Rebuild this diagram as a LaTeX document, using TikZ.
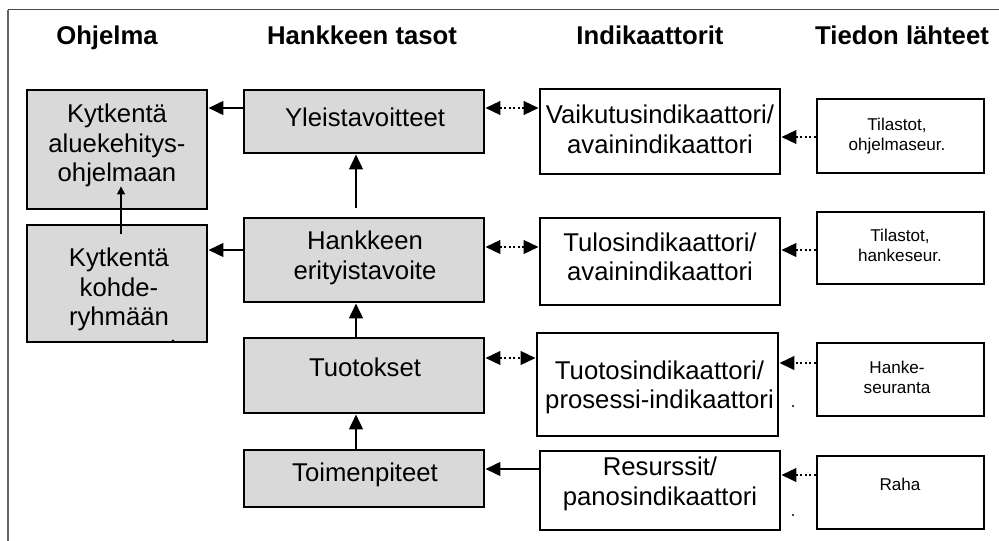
\documentclass[tikz,border=0pt]{standalone}
\usepackage{fontspec}
\setmainfont{Liberation Sans}
\usetikzlibrary{arrows.meta}

\definecolor{boxgray}{HTML}{D9D9D9}
\definecolor{framegray}{HTML}{4A4A4A}

\tikzset{
  boxbase/.style={draw=black, line width=2.8pt, inner sep=0pt},
  graybox/.style={boxbase, fill=boxgray},
  whitebox/.style={boxbase, fill=white},
  bigtext/.style={font=\fontsize{25.7}{29.6}\selectfont, align=center, inner sep=0pt},
  smalltext/.style={font=\fontsize{17.1}{20}\selectfont, align=center, inner sep=0pt},
  headtext/.style={font=\fontsize{25.7}{29.6}\selectfont\bfseries, inner sep=0pt, anchor=base},
  tip/.style={Triangle[length=15pt,width=13.5pt]},
  arr/.style={line width=2.8pt, -{Triangle[length=15pt,width=13.5pt]}},
  thinarr/.style={line width=1.5pt, -{Triangle[length=8pt,width=8pt]}},
  dotarr/.style={line width=2.6pt, dash pattern=on 2pt off 2.5pt, -{Triangle[length=15pt,width=13.5pt]}},
  dotboth/.style={line width=2.6pt, dash pattern=on 2pt off 2.5pt, {Triangle[length=15pt,width=13.5pt]}-{Triangle[length=15pt,width=13.5pt]}},
}

\begin{document}
\begin{tikzpicture}[x=1pt, y=-1pt]
  \useasboundingbox (0,0) rectangle (999,541);

  % frame (top and left edges)
  \draw[framegray, line width=1.6pt] (8,9.5) -- (999,9.5);
  \draw[framegray!85, line width=2pt] (8,9.5) -- (8,541);

  % column headings
  \node[headtext] (h1) at (107,44) {Ohjelma};
  \node[headtext] (h2) at (362,44) {Hankkeen tasot};
  \node[headtext] (h3) at (650,44) {Indikaattorit};
  \node[headtext] (h4) at (902,44) {Tiedon lähteet};

  % programme column
  \node[graybox, minimum width=180pt, minimum height=119pt] (ohj1) at (117,149.5) {};
  \node[graybox, minimum width=180pt, minimum height=117pt] (ohj2) at (117,283.5) {};

  % project levels
  \node[graybox, minimum width=240pt, minimum height=63pt] (lev1) at (364,121.5) {};
  \node[graybox, minimum width=240pt, minimum height=84pt] (lev2) at (364,260) {};
  \node[graybox, minimum width=240pt, minimum height=75pt] (lev3) at (364,375.5) {};
  \node[graybox, minimum width=240pt, minimum height=57pt] (lev4) at (364,478.5) {};

  % indicators
  \node[whitebox, minimum width=240pt, minimum height=85pt] (ind1) at (660,131.5) {};
  \node[whitebox, minimum width=240pt, minimum height=87pt] (ind2) at (660,261.5) {};
  \node[whitebox, minimum width=241pt, minimum height=103pt] (ind3) at (657.5,384.5) {};
  \node[whitebox, minimum width=240pt, minimum height=79pt] (ind4) at (660,490.5) {};

  % information sources
  \node[whitebox, minimum width=167pt, minimum height=74pt] (src1) at (900.5,136) {};
  \node[whitebox, minimum width=167pt, minimum height=72pt] (src2) at (900.5,248) {};
  \node[whitebox, minimum width=167pt, minimum height=73pt] (src3) at (900.5,379.5) {};
  \node[whitebox, minimum width=167pt, minimum height=73pt] (src4) at (900.5,492.5) {};

  % box texts
  \node[bigtext] (t-ohj1) at (117,145.5) {Kytkentä\\aluekehitys-\\ohjelmaan};
  \node[bigtext] (t-ohj2) at (119,289.5) {Kytkentä\\kohde-\\ryhmään};
  \node[bigtext] (t-lev1) at (365,117) {Yleistavoitteet};
  \node[bigtext] (t-lev2) at (365,258) {Hankkeen\\erityistavoite};
  \node[bigtext] (t-lev3) at (365,367) {Tuotokset};
  \node[bigtext] (t-lev4) at (365,475) {Toimenpiteet};
  \node[bigtext] (t-ind1) at (660,129.5) {Vaikutusindikaattori/\\avainindikaattori};
  \node[bigtext] (t-ind2) at (660,257) {Tulosindikaattori/\\avainindikaattori};
  \node[bigtext] (t-ind3) at (659.5,387.5) {Tuotosindikaattori/\\prosessi-indikaattori};
  \node[bigtext] (t-ind4) at (660,484) {Resurssit/\\panosindikaattori};
  \node[smalltext] (t-src1) at (897,136) {Tilastot,\\ohjelmaseur.};
  \node[smalltext] (t-src2) at (900,245.5) {Tilastot,\\hankeseur.};
  \node[smalltext] (t-src3) at (897,377) {Hanke-\\seuranta};
  \node[smalltext] (t-src4) at (900,484) {Raha};

  % links to the programme
  \coordinate (a1) at ([yshift=13.5pt]lev1.west);
  \draw[arr] (a1) -- (a1 -| ohj1.east);
  \coordinate (a2) at ([yshift=10pt]lev2.west);
  \draw[arr] (a2) -- (a2 -| ohj2.east);
  \coordinate (a3s) at ([xshift=4pt, yshift=-10pt]ohj2.north);
  \coordinate (a3e) at ([xshift=4pt, yshift=24pt]ohj1.south);
  \draw[thinarr] (a3s) -- (a3e);

  % upward chain of project levels
  \draw[arr] ([xshift=-8pt, yshift=9pt]lev2.north) -- ([xshift=-8pt]lev1.south);
  \draw[arr] ([xshift=-8pt]lev3.north) -- ([xshift=-8pt]lev2.south);
  \draw[arr] ([xshift=-8pt]lev4.north) -- ([xshift=-8pt]lev3.south);

  % levels and indicators
  \coordinate (b1) at ([yshift=13.5pt]lev1.east);
  \draw[dotboth] (b1) -- (b1 -| ind1.west);
  \coordinate (b2) at ([yshift=13pt]lev2.east);
  \draw[dotboth] (b2) -- (b2 -| ind2.west);
  \coordinate (b3) at ([yshift=17.5pt]lev3.east);
  \draw[dotboth] (b3) -- (b3 -| ind3.west);
  \coordinate (b4) at ([yshift=21.5pt]ind4.west);
  \draw[arr] (b4) -- (b4 -| lev4.east);

  % sources feeding the indicators
  \coordinate (c1) at ([yshift=-1pt]src1.west);
  \draw[dotarr] (c1) -- (c1 -| ind1.east);
  \coordinate (c2) at ([yshift=-2pt]src2.west);
  \draw[dotarr] (c2) -- (c2 -| ind2.east);
  \coordinate (c3) at ([yshift=16.5pt]src3.west);
  \draw[dotarr] (c3) -- (c3 -| ind3.east);
  \coordinate (c4) at ([yshift=17.5pt]src4.west);
  \draw[dotarr] (c4) -- (c4 -| ind4.east);

  % stray marks
  \fill (793,406) circle (1.1pt);
  \fill (793,515) circle (1.1pt);
  \fill (173,341) circle (1.6pt);
\end{tikzpicture}
\end{document}
